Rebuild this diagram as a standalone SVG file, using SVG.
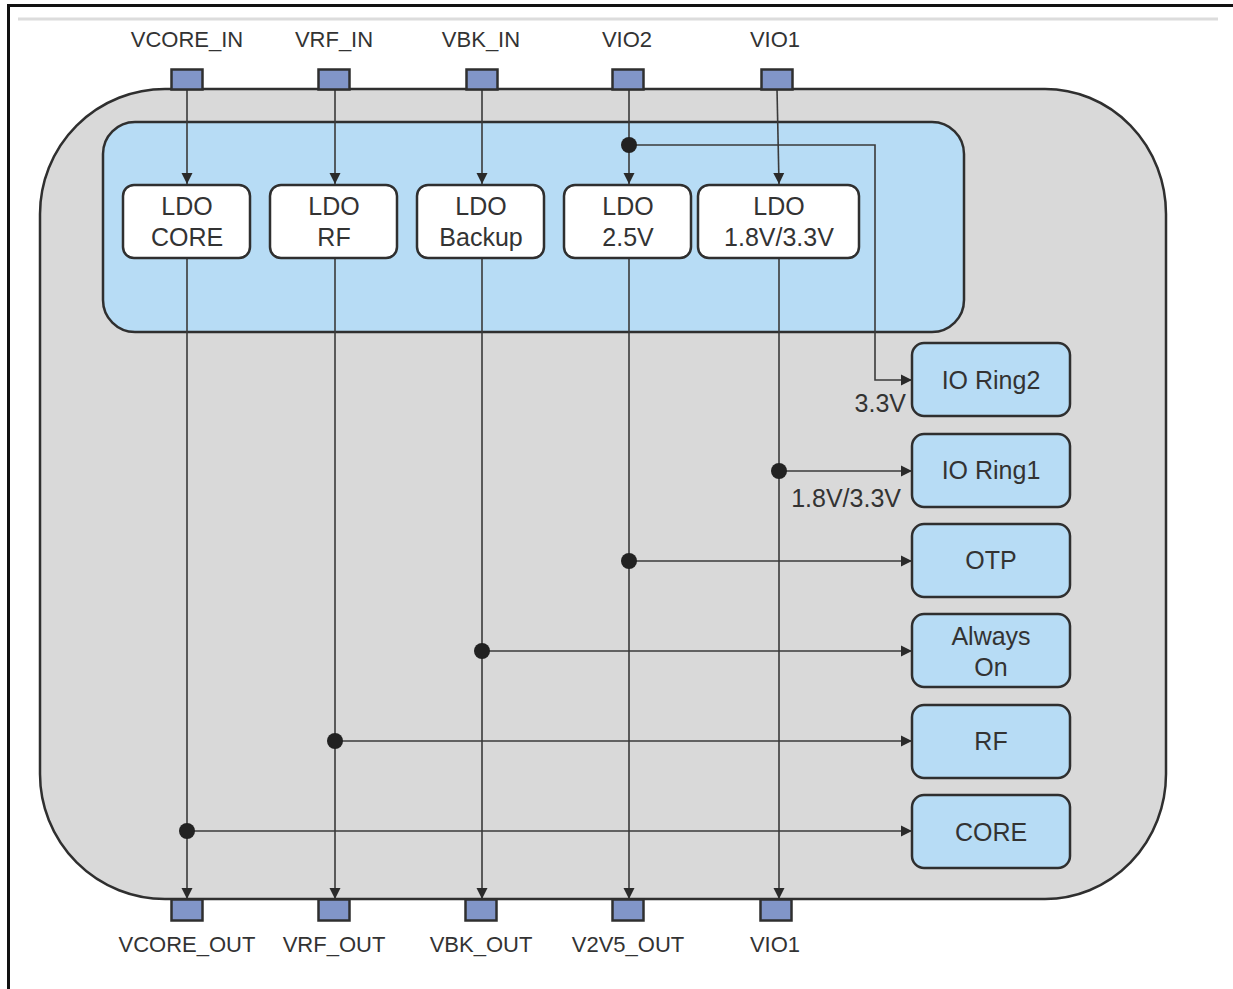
<svg xmlns="http://www.w3.org/2000/svg" width="1233" height="989" viewBox="0 0 1233 989">
<style>
text{font-family:"Liberation Sans",Arial,sans-serif;fill:#333;}
.lbl{font-size:22px;text-anchor:middle;}
.ldo{font-size:25px;text-anchor:middle;}
.vl{font-size:25px;text-anchor:end;}
.box{fill:#b7dcf5;stroke:#2f2f2f;stroke-width:2.5;}
.wbox{fill:#ffffff;stroke:#2f2f2f;stroke-width:2.5;}
.pin{fill:#8195c8;stroke:#2f2f2f;stroke-width:2.5;}
.wire{fill:none;stroke:#3a3a3a;stroke-width:1.6;}
.dot{fill:#222;}
</style>
<defs>
<marker id="arr" markerWidth="12" markerHeight="12" refX="11" refY="6" orient="auto" markerUnits="userSpaceOnUse">
<path d="M0,0.5 L11,6 L0,11.5 Z" fill="#2a2a2a"/>
</marker>
</defs>
<rect x="0" y="0" width="1233" height="989" fill="#ffffff"/>
<g id="frame">
<path d="M8.5,989 L8.5,5.5 L1233,5.5" fill="none" stroke="#111" stroke-width="3"/>
<line x1="18" y1="19" x2="1218" y2="19" stroke="#dcdcdc" stroke-width="3"/>
</g>
<g id="chip">
<path d="M165,89 L1045,89 A121,125 0 0 1 1166,214 L1166,774 A121,125 0 0 1 1045,899 L165,899 A125,125 0 0 1 40,774 L40,214 A125,125 0 0 1 165,89 Z" fill="#d9d9d9" stroke="#2f2f2f" stroke-width="2.5"/>
</g>
<g id="ldo-panel">
<rect x="103" y="122" width="861" height="210" rx="32" ry="32" class="box"/>
</g>
<g id="connectors">
<line class="wire" x1="187" y1="89" x2="187" y2="184" marker-end="url(#arr)"/>
<line class="wire" x1="335" y1="89" x2="335" y2="184" marker-end="url(#arr)"/>
<line class="wire" x1="482" y1="89" x2="482" y2="184" marker-end="url(#arr)"/>
<line class="wire" x1="629" y1="89" x2="629" y2="184" marker-end="url(#arr)"/>
<line class="wire" x1="777" y1="89" x2="779" y2="184" marker-end="url(#arr)"/>
<line class="wire" x1="187" y1="258" x2="187" y2="899" marker-end="url(#arr)"/>
<line class="wire" x1="335" y1="258" x2="335" y2="899" marker-end="url(#arr)"/>
<line class="wire" x1="482" y1="258" x2="482" y2="899" marker-end="url(#arr)"/>
<line class="wire" x1="629" y1="258" x2="629" y2="899" marker-end="url(#arr)"/>
<line class="wire" x1="779" y1="258" x2="779" y2="899" marker-end="url(#arr)"/>
<path class="wire" d="M629,145 L875,145 L875,380 L912,380" marker-end="url(#arr)"/>
<line class="wire" x1="779" y1="471" x2="912" y2="471" marker-end="url(#arr)"/>
<line class="wire" x1="629" y1="561" x2="912" y2="561" marker-end="url(#arr)"/>
<line class="wire" x1="482" y1="651" x2="912" y2="651" marker-end="url(#arr)"/>
<line class="wire" x1="335" y1="741" x2="912" y2="741" marker-end="url(#arr)"/>
<line class="wire" x1="187" y1="831" x2="912" y2="831" marker-end="url(#arr)"/>
<circle class="dot" cx="629" cy="145" r="8"/>
<circle class="dot" cx="779" cy="471" r="8"/>
<circle class="dot" cx="629" cy="561" r="8"/>
<circle class="dot" cx="482" cy="651" r="8"/>
<circle class="dot" cx="335" cy="741" r="8"/>
<circle class="dot" cx="187" cy="831" r="8"/>
<text class="vl" x="906" y="412">3.3V</text>
<text class="vl" x="901" y="507">1.8V/3.3V</text>
</g>
<g id="pin-vcore-in"><rect class="pin" x="171.5" y="69.5" width="31" height="20"/><text class="lbl" x="187" y="47">VCORE_IN</text></g>
<g id="pin-vrf-in"><rect class="pin" x="318.5" y="69.5" width="31" height="20"/><text class="lbl" x="334" y="47">VRF_IN</text></g>
<g id="pin-vbk-in"><rect class="pin" x="466.5" y="69.5" width="31" height="20"/><text class="lbl" x="481" y="47">VBK_IN</text></g>
<g id="pin-vio2"><rect class="pin" x="612.5" y="69.5" width="31" height="20"/><text class="lbl" x="627" y="47">VIO2</text></g>
<g id="pin-vio1-in"><rect class="pin" x="761.5" y="69.5" width="31" height="20"/><text class="lbl" x="775" y="47">VIO1</text></g>
<g id="pin-vcore-out"><rect class="pin" x="171.5" y="899.5" width="31" height="21"/><text class="lbl" x="187" y="952">VCORE_OUT</text></g>
<g id="pin-vrf-out"><rect class="pin" x="318.5" y="899.5" width="31" height="21"/><text class="lbl" x="334" y="952">VRF_OUT</text></g>
<g id="pin-vbk-out"><rect class="pin" x="465.5" y="899.5" width="31" height="21"/><text class="lbl" x="481" y="952">VBK_OUT</text></g>
<g id="pin-v2v5-out"><rect class="pin" x="612.5" y="899.5" width="31" height="21"/><text class="lbl" x="628" y="952">V2V5_OUT</text></g>
<g id="pin-vio1-out"><rect class="pin" x="760.5" y="899.5" width="31" height="21"/><text class="lbl" x="775" y="952">VIO1</text></g>
<g id="ldo-core"><rect class="wbox" x="123" y="185" width="127" height="73" rx="11"/><text class="ldo" x="187" y="215">LDO</text><text class="ldo" x="187" y="246">CORE</text></g>
<g id="ldo-rf"><rect class="wbox" x="270" y="185" width="127" height="73" rx="11"/><text class="ldo" x="334" y="215">LDO</text><text class="ldo" x="334" y="246">RF</text></g>
<g id="ldo-backup"><rect class="wbox" x="417" y="185" width="127" height="73" rx="11"/><text class="ldo" x="481" y="215">LDO</text><text class="ldo" x="481" y="246">Backup</text></g>
<g id="ldo-2v5"><rect class="wbox" x="564" y="185" width="127" height="73" rx="11"/><text class="ldo" x="628" y="215">LDO</text><text class="ldo" x="628" y="246">2.5V</text></g>
<g id="ldo-1v8"><rect class="wbox" x="698" y="185" width="161" height="73" rx="11"/><text class="ldo" x="779" y="215">LDO</text><text class="ldo" x="779" y="246">1.8V/3.3V</text></g>
<g id="io-ring2"><rect class="box" x="912" y="343" width="158" height="73" rx="12"/><text class="ldo" x="991" y="389">IO Ring2</text></g>
<g id="io-ring1"><rect class="box" x="912" y="434" width="158" height="73" rx="12"/><text class="ldo" x="991" y="479">IO Ring1</text></g>
<g id="otp"><rect class="box" x="912" y="524" width="158" height="73" rx="12"/><text class="ldo" x="991" y="569">OTP</text></g>
<g id="always-on"><rect class="box" x="912" y="614" width="158" height="73" rx="12"/><text class="ldo" x="991" y="645">Always</text><text class="ldo" x="991" y="676">On</text></g>
<g id="rf"><rect class="box" x="912" y="705" width="158" height="73" rx="12"/><text class="ldo" x="991" y="750">RF</text></g>
<g id="core"><rect class="box" x="912" y="795" width="158" height="73" rx="12"/><text class="ldo" x="991" y="841">CORE</text></g>
</svg>
